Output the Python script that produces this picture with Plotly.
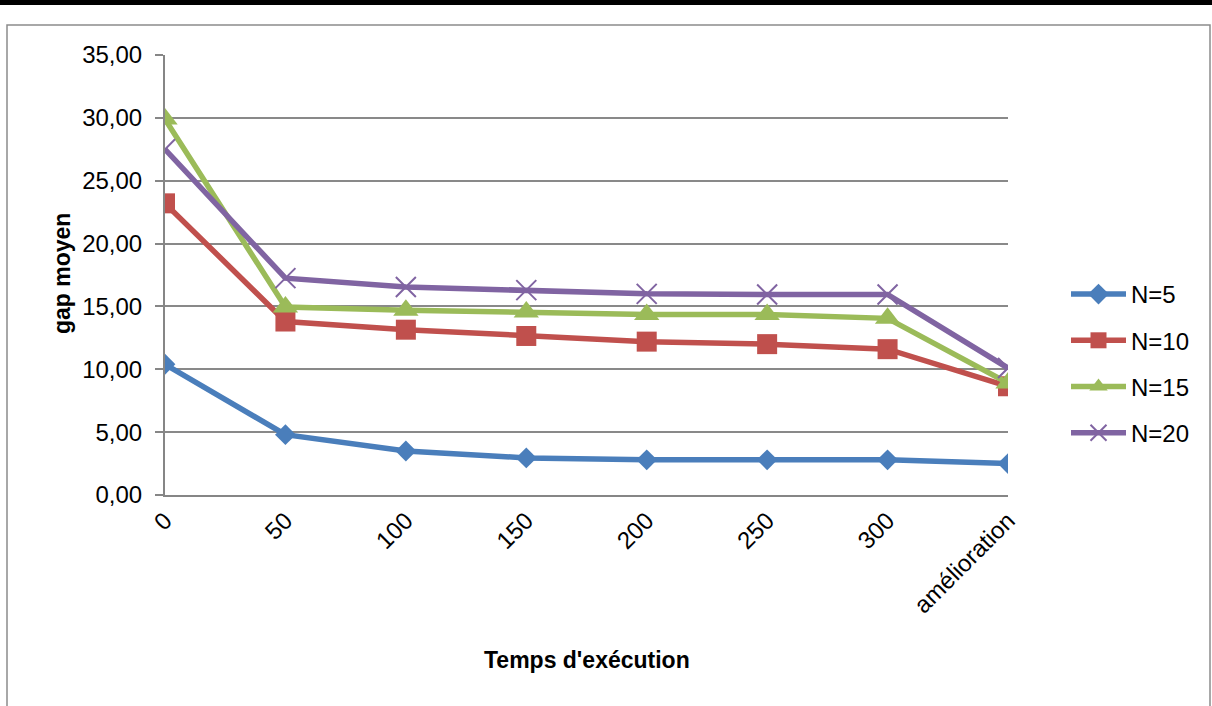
import plotly.graph_objects as go

categories = ["0", "50", "100", "150", "200", "250", "300", "amélioration"]
n5 = [10.4, 4.8, 3.5, 2.95, 2.8, 2.8, 2.8, 2.5]
n10 = [23.2, 13.8, 13.15, 12.65, 12.2, 12.0, 11.6, 8.65]
n15 = [29.9, 14.95, 14.7, 14.55, 14.35, 14.35, 14.05, 8.9]
n20 = [27.5, 17.25, 16.55, 16.3, 16.0, 15.95, 15.95, 10.1]
series_names = ["N=5", "N=10", "N=15", "N=20"]
y_ticks = [0, 5, 10, 15, 20, 25, 30, 35]

W, H = 1212, 706
ML, MR, MT, MB = 165, 204, 55, 211
PW = W - ML - MR
PH = H - MT - MB


def px2x(px):
    return (px - ML) / PW


def py2y(py):
    return (H - MB - py) / PH


FONT = "Liberation Sans"
styles = [
    dict(color="#4A7EBB", symbol="diamond", size=16, lw=0),
    dict(color="#C0504D", symbol="square", size=20, lw=0),
    dict(color="#9BBB59", symbol="triangle-up", size=22, lw=0),
    dict(color="#8064A2", symbol="x-thin", size=20, lw=2),
]

fig = go.Figure()
x_idx = list(range(len(categories)))
for name, vals, st in zip(series_names, [n5, n10, n15, n20], styles):
    fig.add_trace(go.Scatter(
        x=x_idx, y=vals, name=name, mode="lines+markers",
        legendgroup=name,
        line=dict(color=st["color"], width=5.5),
        marker=dict(symbol=st["symbol"], size=st["size"], color=st["color"],
                    line=dict(color=st["color"], width=st["lw"])),
    ))

fig.update_layout(
    width=W, height=H,
    margin=dict(l=ML, r=MR, t=MT, b=MB),
    paper_bgcolor="white", plot_bgcolor="white",
    font=dict(family=FONT, size=24, color="black"),
    separators=", ",
    showlegend=True,
    legend=dict(x=px2x(1066), y=py2y(272), xanchor="left", yanchor="top",
                traceorder="grouped", tracegroupgap=12, itemwidth=55,
                font=dict(family=FONT, size=24), bgcolor="rgba(0,0,0,0)"),
    xaxis=dict(
        range=[0, len(categories) - 1],
        tickmode="array", tickvals=x_idx, ticktext=categories,
        tickangle=-45, showgrid=False, zeroline=False,
        showline=True, linecolor="#868686", linewidth=2,
        ticks="", tickfont=dict(size=24),
    ),
    yaxis=dict(
        range=[0, 35], tickmode="array", tickvals=y_ticks,
        tickformat=".2f", showgrid=True, gridcolor="#898989", gridwidth=2,
        zeroline=False, showline=True, linecolor="#868686", linewidth=2,
        ticks="outside", ticklen=8, tickcolor="#868686", tickwidth=2,
        ticklabelstandoff=8, tickfont=dict(size=24),
    ),
    shapes=[
        dict(type="rect", xref="paper", yref="paper",
             x0=px2x(-5), x1=px2x(W + 5), y0=py2y(5), y1=py2y(-5),
             fillcolor="black", line=dict(width=0), layer="above"),
        dict(type="rect", xref="paper", yref="paper",
             x0=px2x(7), x1=px2x(1210), y0=py2y(730), y1=py2y(25),
             fillcolor="rgba(0,0,0,0)", line=dict(color="#8C8C8C", width=1.5),
             layer="below"),
    ],
    annotations=[
        dict(text="<b>gap moyen</b>", xref="paper", yref="paper",
             x=px2x(62), y=py2y(274), textangle=-90, showarrow=False,
             font=dict(family=FONT, size=23), xanchor="center", yanchor="middle"),
        dict(text="<b>Temps d'exécution</b>", xref="paper", yref="paper",
             x=px2x(587), y=py2y(660), showarrow=False,
             font=dict(family=FONT, size=23), xanchor="center", yanchor="middle"),
    ],
)

fig.write_html("out.html")
